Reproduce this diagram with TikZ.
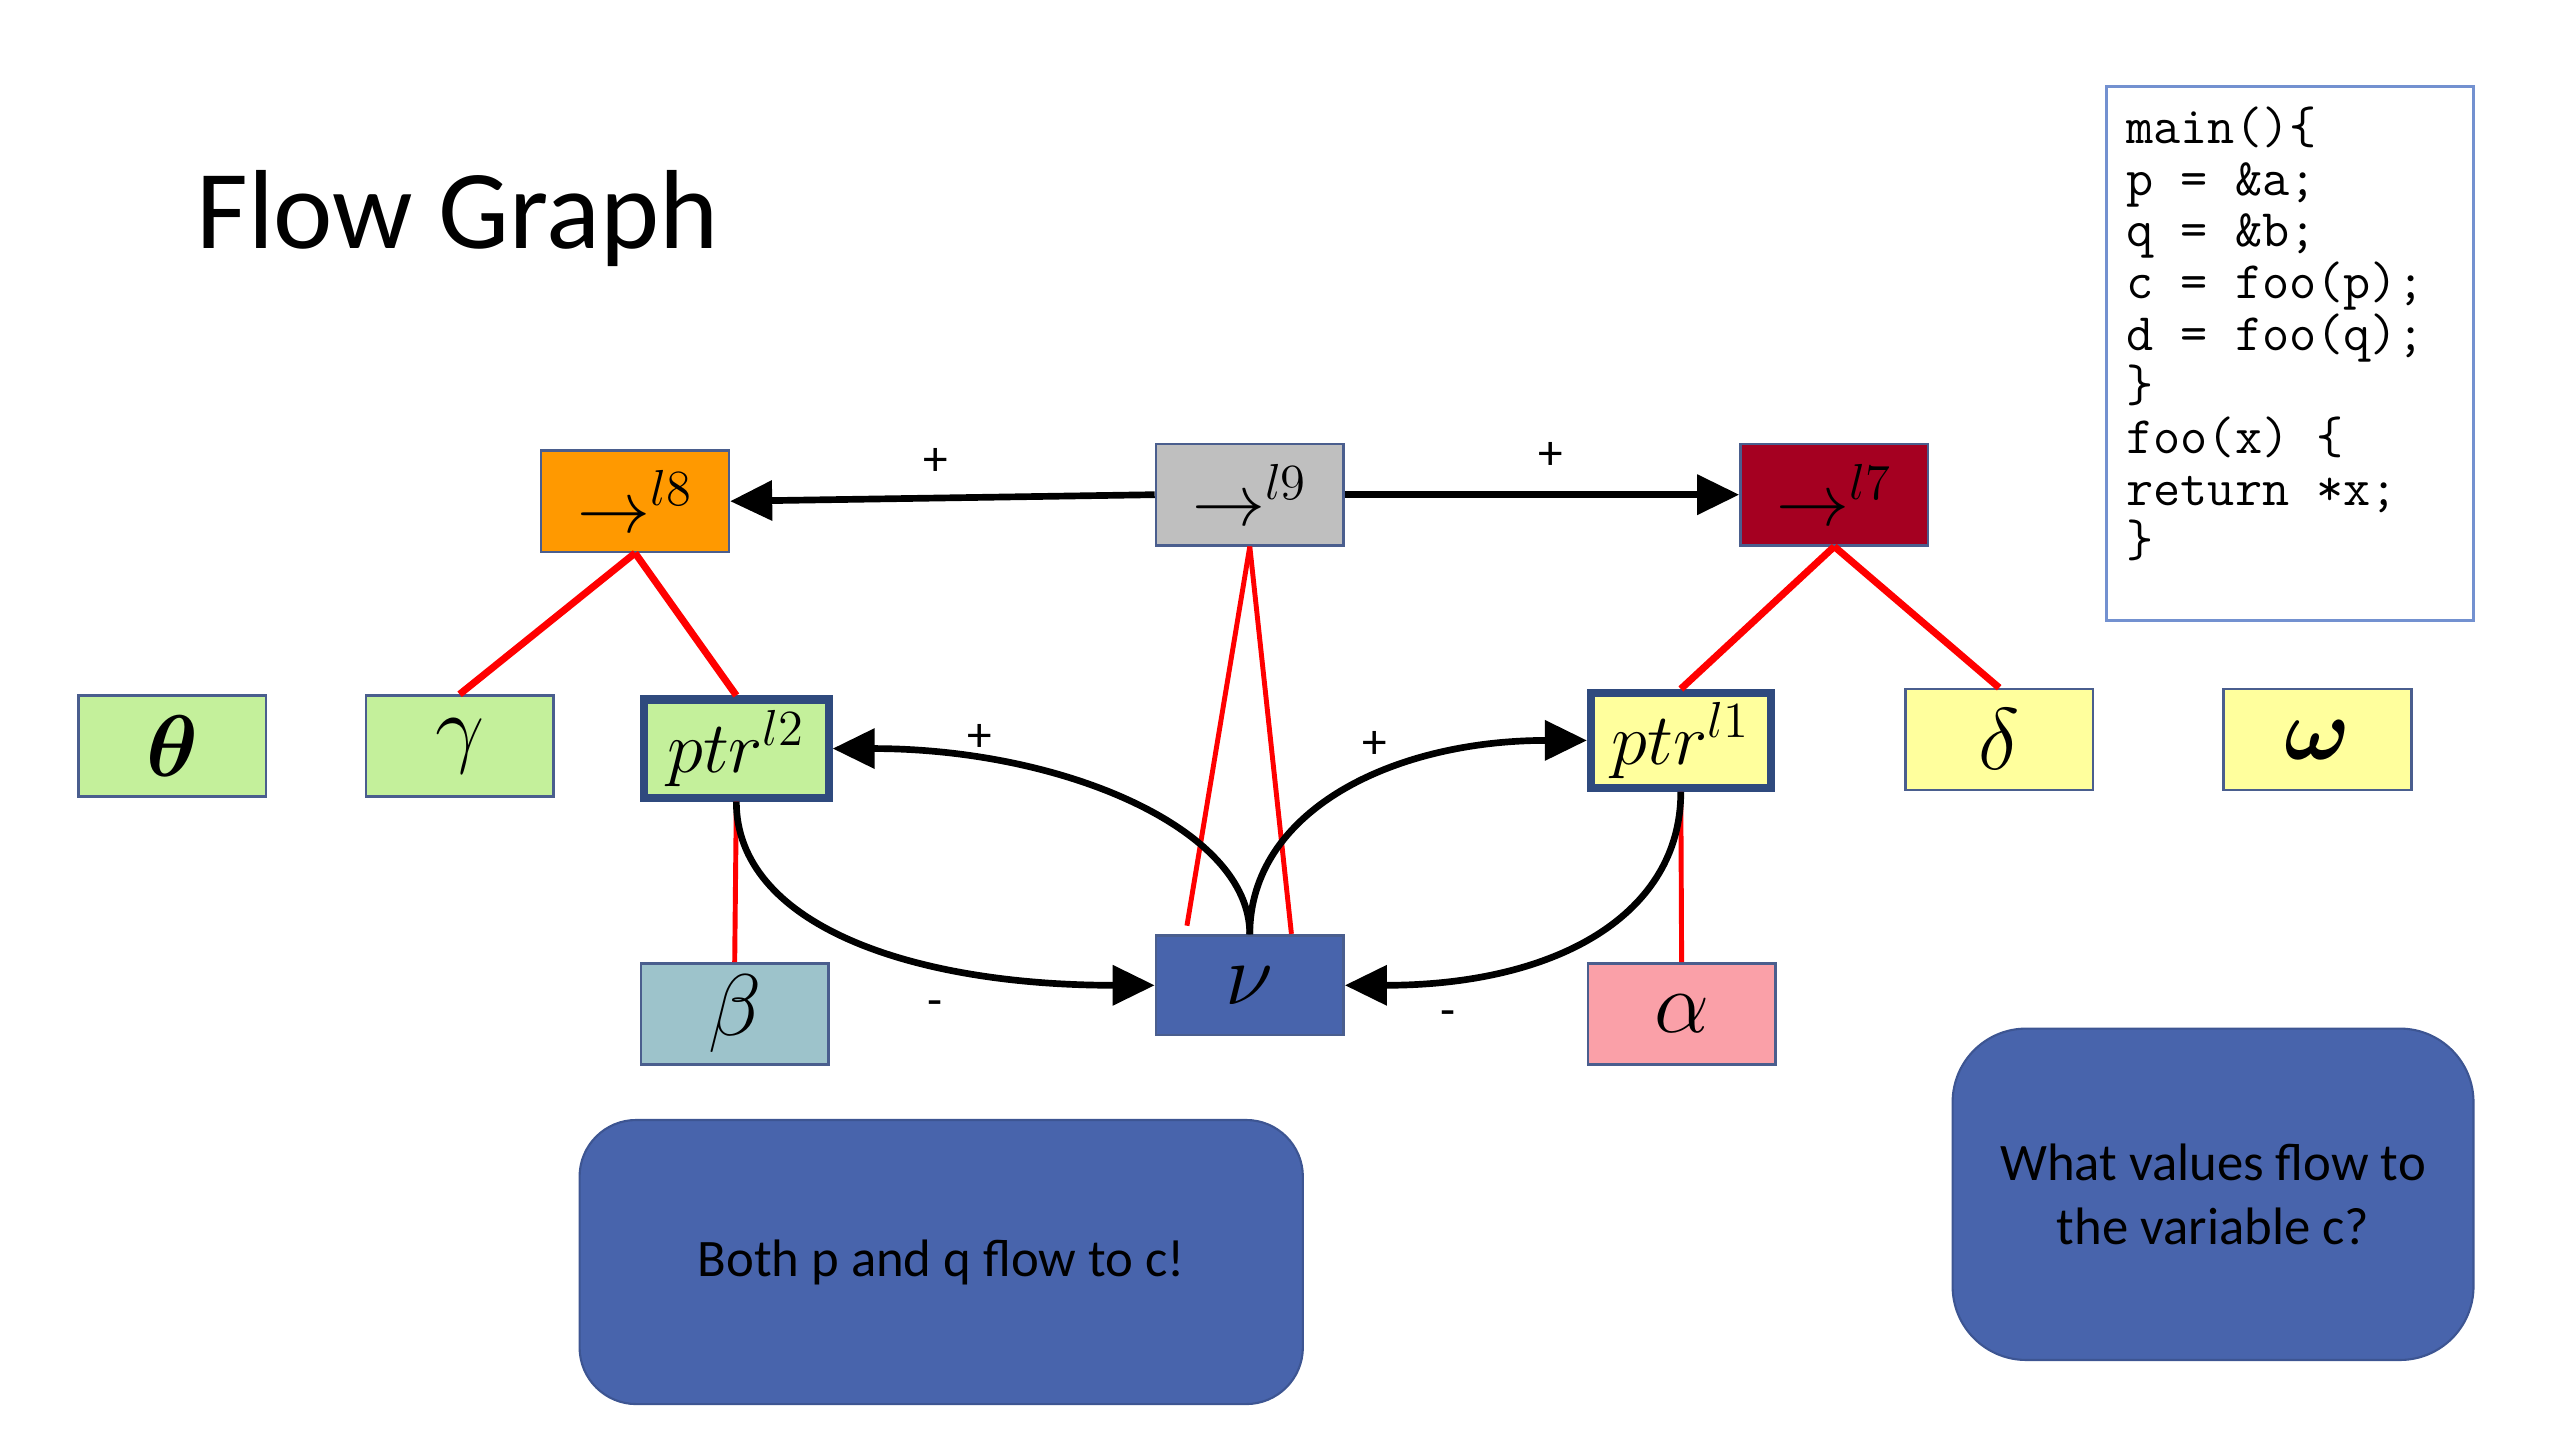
\documentclass[tikz,border=0pt]{standalone}
\usepackage{amsmath,amssymb,bm}
\usepackage{fontspec}
\newfontfamily\calibri{Carlito}
\usetikzlibrary{arrows.meta}
\definecolor{orangeC}{HTML}{FF9900}
\definecolor{greyC}{HTML}{BFBFBF}
\definecolor{redC}{HTML}{A50021}
\definecolor{greenC}{HTML}{C4F09B}
\definecolor{yellowC}{HTML}{FFFF9D}
\definecolor{betaC}{HTML}{9DC3CB}
\definecolor{blueC}{HTML}{4864AC}
\definecolor{pinkC}{HTML}{FAA0A8}
\definecolor{thinB}{HTML}{4A5E8E}
\definecolor{thickB}{HTML}{2F4A7E}
\definecolor{codeB}{HTML}{7391D0}
\definecolor{redL}{HTML}{FF0000}
\tikzset{
  vbox/.style={draw=thinB, line width=0.7pt, inner sep=0pt, minimum width=1.877cm, minimum height=1.012cm, font=\fontsize{21}{24}\selectfont},
  gbox/.style={vbox, font=\fontsize{24}{27}\selectfont},
  ptrbox/.style={vbox, draw=thickB, line width=2.3pt},
  flow/.style={line width=1.9pt, -{Triangle[length=0.42cm, width=0.39cm]}},
  redline/.style={draw=redL, line width=2pt},
  thinred/.style={draw=redL, line width=1.4pt},
  sign/.style={font=\calibri\fontsize{14}{16}\selectfont, inner sep=0pt},
  bubble/.style={fill=blueC, draw=blueC!85!black, line width=0.6pt, align=center, font=\calibri\fontsize{15}{18.2}\selectfont}
}
\begin{document}
\begin{tikzpicture}[x=0.016327cm, y=-0.016327cm]
\useasboundingbox (0,0) rectangle (1568,882);
% title
\node[anchor=base west, inner sep=0pt, font=\calibri\fontsize{32}{38}\selectfont] (title) at (120,152) {Flow Graph};
% code box
\node[draw=codeB, line width=0.9pt, minimum width=3.673cm, minimum height=5.339cm, inner sep=0pt] (code) at (1402.5,216.5) {};
\node[anchor=north west, inner sep=0pt, align=left, font=\ttfamily\fontsize{15}{14.7}\selectfont] (codetext) at (1302,65)
{main()\{\\p = \&a;\\q = \&b;\\c = foo(p);\\d = foo(q);\\\}\\foo(x) \{\\return *x;\\\}};
% top row
\node[vbox, fill=orangeC] (l8) at (389,307) {$\rightarrow^{l8}$};
\node[vbox, fill=greyC] (l9) at (765.5,303) {$\rightarrow^{l9}$};
\node[vbox, fill=redC] (l7) at (1123.5,303) {$\rightarrow^{l7}$};
% middle row
\node[gbox, fill=greenC] (theta) at (105.5,457) {$\boldsymbol{\theta}$};
\node[gbox, fill=greenC] (gamma) at (281.5,457) {$\gamma$};
\node[ptrbox, fill=greenC, minimum width=1.846cm, minimum height=0.981cm] (ptr2) at (451,458.5) {$ptr^{l2}$};
\node[ptrbox, fill=yellowC, minimum width=1.797cm, minimum height=0.948cm] (ptr1) at (1029.5,453.5) {$ptr^{l1}$};
\node[gbox, fill=yellowC] (delta) at (1224.5,453) {$\delta$};
\node[gbox, fill=yellowC] (omega) at (1419.5,453) {$\boldsymbol{\omega}$};
% bottom row
\node[gbox, fill=betaC] (beta) at (450,621) {$\beta$};
\node[gbox, fill=blueC, minimum height=0.996cm] (nu) at (765.5,603.5) {$\nu$};
\node[gbox, fill=pinkC] (alpha) at (1030,621) {$\alpha$};
% bubbles
\node[bubble, rounded corners=0.567cm, minimum width=7.233cm, minimum height=2.841cm] (b1) at (576.5,773) {Both p and q flow to c!};
\node[bubble, rounded corners=0.736cm, minimum width=5.209cm, minimum height=3.314cm] (b2) at (1355.5,731.5) {What values flow to\\the variable c?};
% coordinates on nu
\coordinate (nuL) at (727,567);
\coordinate (nuR) at (791,572);
% red tree lines
\draw[redline] (l8.south) -- (gamma.north);
\draw[redline] (l8.south) -- (ptr2.north);
\draw[redline] (l7.south) -- (ptr1.north);
\draw[redline] (l7.south) -- (delta.north);
\draw[thinred] (l9.south) -- (nuL);
\draw[thinred] (l9.south) -- (nuR);
\draw[thinred] (ptr2.south) -- (beta.north);
\draw[thinred] (ptr1.south) -- (alpha.north);
% flow arrows
\draw[flow] (l9.west) -- (l8.east);
\draw[flow] (l9.east) -- (l7.west);
\draw[flow] (nu.north) .. controls +(0,-65) and +(140,0) .. (ptr2.east);
\draw[flow] (nu.north) .. controls +(0,-75) and +(-120,0) .. (ptr1.west);
\draw[flow] (ptr2.south) .. controls +(0,75) and +(-150,0) .. (nu.west);
\draw[flow] (ptr1.south) .. controls +(0,75) and +(130,0) .. (nu.east);
% signs
\node[sign] (s1) at (573,283) {+};
\node[sign] (s2) at (950,279) {+};
\node[sign] (s3) at (600,452) {+};
\node[sign] (s4) at (842,456) {+};
\node[sign] (s5) at (573,618) {-};
\node[sign] (s6) at (887,624) {-};
\end{tikzpicture}
\end{document}
